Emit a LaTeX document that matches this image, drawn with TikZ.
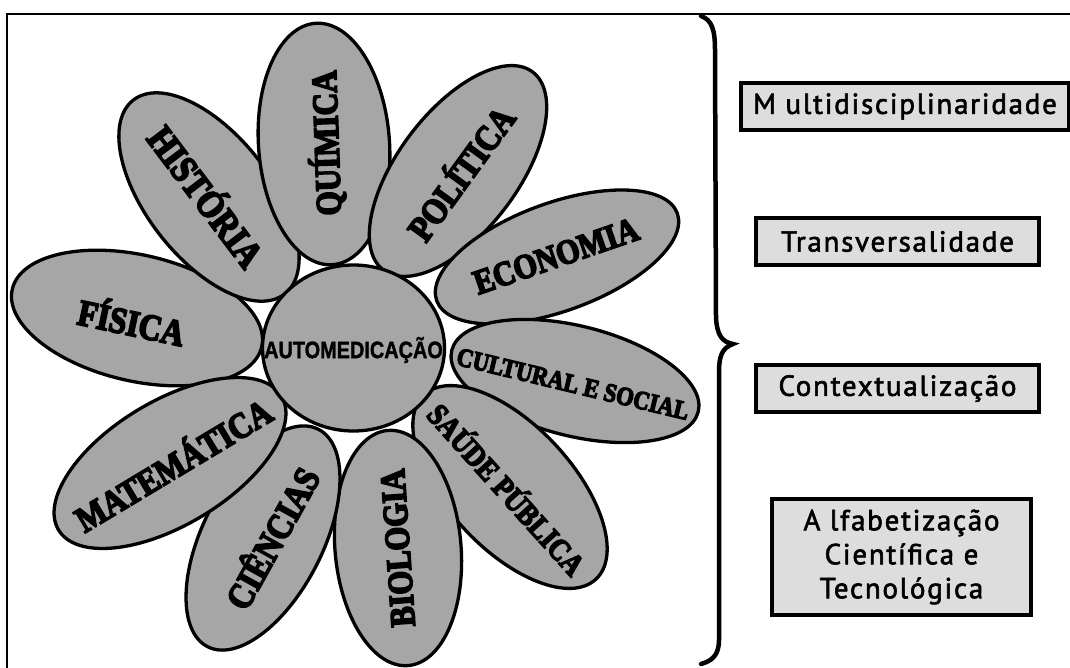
\documentclass[tikz,border=0pt]{standalone}
\usepackage{fontspec}
\usepackage{graphicx}
\usetikzlibrary{shapes.geometric}
\newfontfamily\petalfont[FakeBold=5]{Liberation Serif Bold}
\newfontfamily\centerfont[FakeBold=1.5]{Liberation Sans Bold}
\newfontfamily\boxfont[LetterSpace=6,FakeBold=2]{PT Sans}
\definecolor{petalgray}{RGB}{166,166,166}
\definecolor{boxgray}{RGB}{221,221,221}
\newcommand\petaltxt[2]{\scalebox{1}[1.15]{\resizebox{#1pt}{!}{\petalfont\fontsize{30}{30}\selectfont #2}}}
\begin{document}
\begin{tikzpicture}[x=1pt,y=-1pt,
  petal/.style={ellipse,draw,line width=3.3pt,fill=petalgray,inner sep=0pt},
  ptext/.style={inner sep=0pt},
  ctext/.style={inner sep=0pt,font=\centerfont\fontsize{19.5}{20}\selectfont},
  conceptbox/.style={draw,line width=4pt,fill=boxgray,inner sep=0pt,minimum height=47pt,
     font=\boxfont\fontsize{29}{34}\selectfont,align=center},
  brace/.style={line width=4.5pt,line cap=round}]
\useasboundingbox (0,0) rectangle (1070,667);
% frame
\draw[line width=2pt] (7,672) -- (7,14) -- (1075,14);
% petals
\node[petal,rotate=-13,minimum width=256pt,minimum height=126pt] (pfis) at (137,318) {};
\node[ptext,rotate=-12] (tfis) at (132,320) {\petaltxt{108}{FÍSICA}};
\node[petal,rotate=-52,minimum width=246pt,minimum height=124pt] (phis) at (209,197) {};
\node[ptext,rotate=-53] (this) at (208,195) {\petaltxt{165}{HISTÓRIA}};
\node[petal,rotate=94,minimum width=242pt,minimum height=131pt] (pqui) at (324,144) {};
\node[ptext,rotate=92] (tqui) at (326,143) {\petaltxt{145}{QUÍMICA}};
\node[petal,rotate=53,minimum width=248pt,minimum height=120pt] (ppol) at (458,171) {};
\node[ptext,rotate=54] (tpol) at (459,172) {\petaltxt{155}{POLÍTICA}};
\node[petal,rotate=20,minimum width=256pt,minimum height=108pt] (peco) at (557,257) {};
\node[ptext,rotate=19] (teco) at (556,256) {\petaltxt{172}{ECONOMIA}};
\node[petal,rotate=-14,minimum width=254pt,minimum height=110pt] (pcul) at (575,381) {};
\node[ptext,rotate=-13.5] (tcul) at (573,384) {\petaltxt{238}{CULTURAL E SOCIAL}};
\node[petal,rotate=-47,minimum width=252pt,minimum height=124pt] (psau) at (510,487) {};
\node[ptext,rotate=-48] (tsau) at (508,488) {\petaltxt{218}{SAÚDE PÚBLICA}};
\node[petal,rotate=95,minimum width=236pt,minimum height=126pt] (pbio) at (398,548) {};
\node[ptext,rotate=94] (tbio) at (398,548) {\petaltxt{158}{BIOLOGIA}};
\node[petal,rotate=63,minimum width=244pt,minimum height=120pt] (pcie) at (263,538) {};
\node[ptext,rotate=61] (tcie) at (270,537) {\petaltxt{155}{CIÊNCIAS}};
\node[petal,rotate=31,minimum width=260pt,minimum height=124pt] (pmat) at (170,463) {};
\node[ptext,rotate=31] (tmat) at (172,463) {\petaltxt{222}{MATEMÁTICA}};
% centre
\node[petal,minimum width=182pt,minimum height=166pt] (centre) at (353.5,348) {};
\node[ctext] (tcentre) at (353.5,350) {\scalebox{1.02}[1.22]{AUTOMEDICAÇÃO}};
% brace
\draw[brace] (701,16) .. controls (712,20) and (715,30) .. (715,50) -- (716,318)
  .. controls (717,335) and (722,342) .. (733,344)
  .. controls (722,348) and (719,356) .. (719,372) -- (719,640)
  .. controls (719,655) and (712,661) .. (701,664);
% boxes
\node[conceptbox,minimum width=328pt] (multi) at (905,106.5) {M ultidisciplinaridade};
\node[conceptbox,minimum width=283pt] (trans) at (897.5,241.5) {Transversalidade};
\node[conceptbox,minimum width=283pt] (cont) at (897.5,388.5) {Contextualização};
\node[conceptbox,minimum width=259pt,minimum height=116pt] (alfa) at (901.5,557) {A lfabetização\\Científica e\\Tecnológica};
\end{tikzpicture}
\end{document}
